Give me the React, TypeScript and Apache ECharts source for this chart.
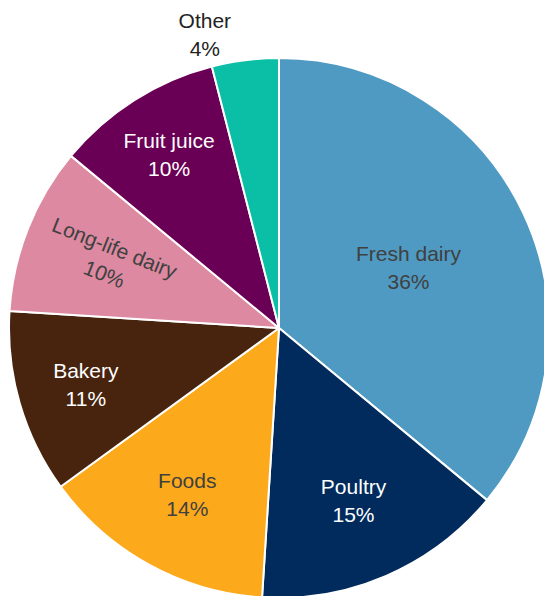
import React, { useEffect, useRef } from "react";
import * as echarts from "echarts";

const categories = ["Fresh dairy", "Poultry", "Foods", "Bakery", "Long-life dairy", "Fruit juice", "Other"];
const shares = [36, 15, 14, 11, 10, 10, 4];

// styling
const sliceColors = ["#4f9ac2", "#002b5c", "#fcaa1b", "#48240f", "#dc89a1", "#6a0056", "#0bbfa7"];
const labelColors = ["#404040", "#ffffff", "#404040", "#ffffff", "#404040", "#ffffff", "#222222"];
const labelRadiusFrac = [0.53, 0.695, 0.705, 0.745, 0.675, 0.76, 1.12];
const labelAngleShift = [0, 0, 0, 0, 0, 0, -7];
const radialLabel = [false, false, false, false, true, false, false];

const CX = 279;
const CY = 328;
const R = 270;

export default function App() {
  const ref = useRef<HTMLDivElement>(null);
  useEffect(() => {
    if (!ref.current) return;
    const chart = echarts.init(ref.current, null, { renderer: "svg" });
    const total = shares.reduce((a, b) => a + b, 0);
    const mids: number[] = [];
    let acc = 0;
    shares.forEach((v) => {
      mids.push(((acc + v / 2) / total) * 360);
      acc += v;
    });
    const data = categories.map((name, i) => {
      const mid = mids[i];
      let rot = 0;
      if (radialLabel[i]) {
        let a = 90 - mid;
        while (a > 90) a -= 180;
        while (a < -90) a += 180;
        rot = a;
      }
      return {
        name,
        value: shares[i],
        itemStyle: { color: sliceColors[i] },
        label: { color: labelColors[i], rotate: rot },
      };
    });
    chart.setOption({
      animation: false,
      series: [
        {
          type: "pie",
          center: [CX, CY],
          radius: R,
          startAngle: 90,
          clockwise: true,
          itemStyle: { borderColor: "#ffffff", borderWidth: 2 },
          label: {
            show: true,
            position: "inside",
            fontFamily: "Liberation Sans, Arial, sans-serif",
            fontSize: 21,
            lineHeight: 28,
            align: "center",
            formatter: (p: any) => `${p.name}\n${Math.round(p.percent)}%`,
          },
          labelLine: { show: false },
          labelLayout: (p: any) => {
            const i = p.dataIndex;
            const ang = ((mids[i] + labelAngleShift[i]) * Math.PI) / 180;
            const d = labelRadiusFrac[i] * R;
            return {
              x: CX + d * Math.sin(ang),
              y: CY - d * Math.cos(ang),
              align: "center",
              verticalAlign: "middle",
            };
          },
          emphasis: { disabled: true },
          data,
        },
      ],
    });
    return () => chart.dispose();
  }, []);
  return (
    <div
      ref={ref}
      style={{ position: "fixed", left: 0, top: 0, width: 544, height: 596, background: "#ffffff" }}
    />
  );
}
